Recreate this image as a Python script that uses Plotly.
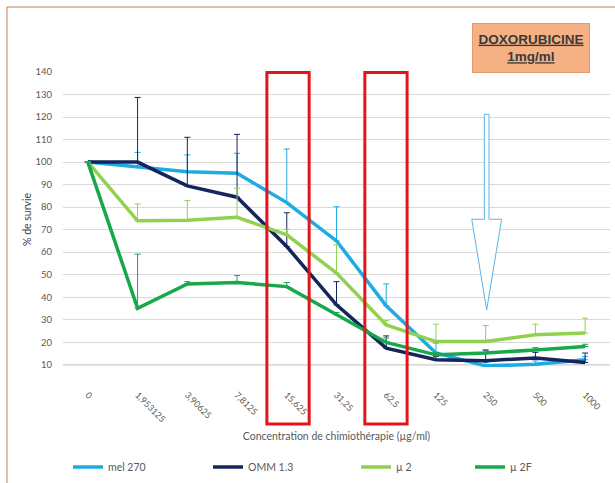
import plotly.graph_objects as go

# ---- data ----
categories = ["0", "1,953125", "3,90625", "7,8125", "15,625", "31,25", "62,5", "125", "250", "500", "1000"]
mel270 = [100, 97.7, 95.7, 95.0, 82.0, 65.0, 36.2, 15.2, 9.5, 10.2, 12.2]
mel270_err = [0, 6.6, 7.5, 8.9, 23.8, 15.2, 9.7, 4.4, 1.5, 1.5, 1.5]
omm13 = [100, 100, 89.4, 84.4, 62.5, 36.6, 17.4, 12.2, 11.8, 13.0, 11.0]
omm13_err = [0, 28.7, 21.6, 27.9, 15.0, 10.3, 5.4, 1.5, 4.4, 2.5, 4.2]
mu2 = [100, 73.9, 74.2, 75.5, 67.7, 50.7, 27.7, 20.3, 20.3, 23.3, 24.1]
mu2_err = [0, 7.5, 8.7, 12.9, 2.5, 12.5, 2.0, 7.7, 7.1, 4.7, 6.6]
mu2f = [100, 35.1, 45.9, 46.5, 44.7, 32.2, 19.9, 14.4, 15.2, 16.6, 18.1]
mu2f_err = [0, 24.0, 1.0, 3.1, 1.8, 1.0, 2.0, 1.0, 1.5, 1.0, 1.0]

series_names = ["mel 270", "OMM 1.3", "µ 2", "µ 2F"]
series_vals = [mel270, omm13, mu2, mu2f]
series_errs = [mel270_err, omm13_err, mu2_err, mu2f_err]
series_colors = ["#1DABE3", "#14255C", "#92D050", "#17A84C"]
legend_ids = ["legend", "legend2", "legend3", "legend4"]
legend_x = [0.1106, 0.3382, 0.5789, 0.7643]

FONT = "Lato"
xidx = list(range(len(categories)))

fig = go.Figure()
for name, vals, errs, col, lg in zip(series_names, series_vals, series_errs, series_colors, legend_ids):
    fig.add_trace(go.Scatter(
        x=xidx, y=vals, name=name, mode="lines",
        line=dict(color=col, width=3.5),
        error_y=dict(type="data", symmetric=False, array=errs,
                     arrayminus=[0] * len(errs), color=col, thickness=1, width=3),
        legend=lg, showlegend=True,
    ))

legend_common = dict(orientation="h", yanchor="middle", y=0.033, xanchor="left",
                     xref="container", yref="container",
                     font=dict(family=FONT, size=10.5, color="#595959"),
                     bgcolor="rgba(0,0,0,0)", itemwidth=30)
layout_legends = {}
for lg, lx in zip(legend_ids, legend_x):
    layout_legends[lg] = dict(legend_common, x=lx)

shapes = []
# page border
shapes.append(dict(type="rect", xref="paper", yref="paper", x0=-0.1024, x1=1.2,
                   y0=-0.6, y1=1.2203, line=dict(color="#C8804F", width=1),
                   fillcolor="rgba(0,0,0,0)", layer="below"))
# red baseline at 10
shapes.append(dict(type="line", xref="paper", yref="y", x0=0, x1=1, y0=10, y1=10,
                   line=dict(color="#E57373", width=1), layer="below"))
# red highlight rectangles
for x0, x1 in [(3.60, 4.45), (5.57, 6.42)]:
    shapes.append(dict(type="rect", xref="x", yref="paper", x0=x0, x1=x1,
                       y0=-0.193, y1=0.998, line=dict(color="#E3151A", width=3)))
# hollow down arrow at 250
ax = 8.02
path = (f"M {ax-0.047},121.2 L {ax+0.047},121.2 L {ax+0.047},74.6 L {ax+0.30},74.6 "
        f"L {ax},34.4 L {ax-0.30},74.6 L {ax-0.047},74.6 Z")
shapes.append(dict(type="path", xref="x", yref="y", path=path,
                   line=dict(color="#5AB4E3", width=1), fillcolor="white"))

fig.update_layout(
    width=615, height=483,
    margin=dict(l=63, r=5, t=72, b=116, autoexpand=False),
    paper_bgcolor="white", plot_bgcolor="white",
    font=dict(family=FONT, color="#595959"),
    shapes=shapes,
    **layout_legends,
    xaxis=dict(range=[-0.5, 10.5], tickmode="array", tickvals=xidx, ticktext=categories,
               tickangle=45, showgrid=False, zeroline=False, showline=False, ticks="",
               automargin=False,
               tickfont=dict(family=FONT, size=9, color="#595959"),
               ticklabelstandoff=20,
               title=dict(text="Concentration de chimiothérapie (µg/ml)",
                          font=dict(family=FONT, size=10.5, color="#595959"), standoff=9)),
    yaxis=dict(range=[9, 140], tick0=10, dtick=10, showgrid=True, gridcolor="#D9D9D9",
               gridwidth=1, zeroline=False, showline=False, ticks="",
               automargin=False,
               tickfont=dict(family=FONT, size=9.5, color="#595959"),
               ticklabelstandoff=10,
               title=dict(text="% de survie", font=dict(family=FONT, size=10.5, color="#404040"),
                          standoff=1)),
    annotations=[dict(
        text="<b><u>DOXORUBICINE</u></b><br><b><u>1mg/ml</u></b>",
        xref="paper", yref="paper", x=0.855, y=1.083, xanchor="center", yanchor="middle",
        showarrow=False, bgcolor="#F5B183", bordercolor="#E49A6A", borderwidth=1,
        width=112, height=44, borderpad=2, align="center",
        font=dict(family="Liberation Sans", size=13.5, color="#3A3A3A"),
    )],
)

fig.write_html("out.html", config={"displayModeBar": False},
               post_script="document.body.style.margin='0';")
